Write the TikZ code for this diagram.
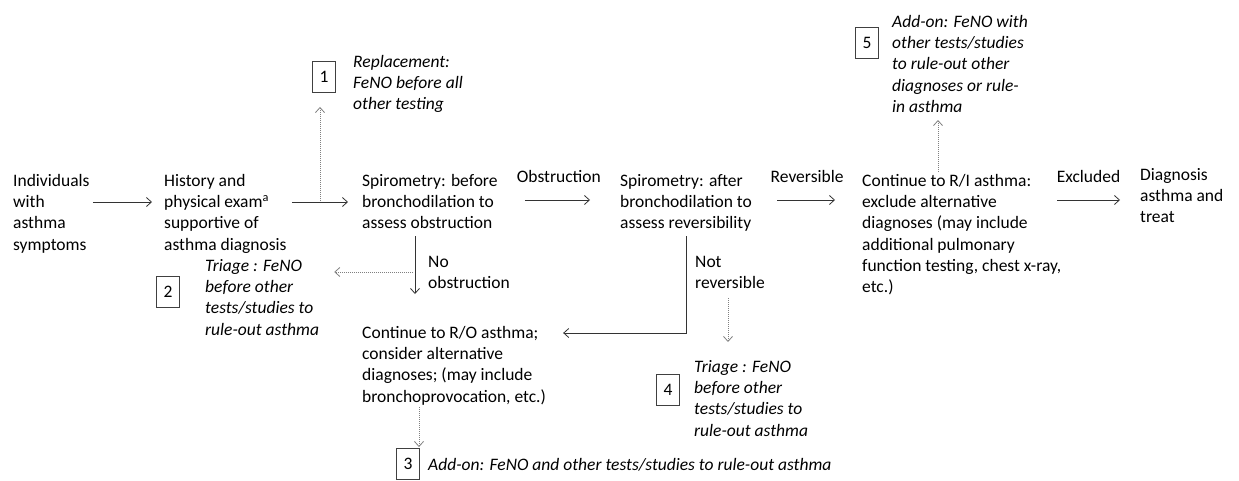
\documentclass[tikz,border=0pt]{standalone}
\usepackage{fontspec}
\setmainfont{Carlito}
\usetikzlibrary{arrows.meta}

\tikzset{
  txt/.style={anchor=north west, align=left, inner sep=0pt, font=\fontsize{17.5}{21.3}\selectfont},
  note/.style={txt, font=\fontsize{17.5}{21.3}\selectfont\itshape},
  numbox/.style={draw=black!75, line width=0.9pt, minimum width=23pt, minimum height=31pt, inner sep=0pt, font=\fontsize{17.5}{21.3}\selectfont},
  arr/.style={draw=black!80, line width=0.8pt, -{Straight Barb[length=5pt,width=9pt]}},
  dotarr/.style={arr, draw=black!50, dash pattern=on 1pt off 1pt},
  lbl/.style={above=17pt, inner sep=0pt, font=\fontsize{17.5}{21.3}\selectfont},
}

\begin{document}
\begin{tikzpicture}[x=1pt,y=-1pt]
\useasboundingbox (0,0) rectangle (1239,480);

		% main row
		\coordinate (row) at (0,202);
		\coordinate (lab) at (0,200);
		\node[txt] (indiv) at (13,174) {Individuals\\with\\asthma\\symptoms};
		\node[txt] (hist) at (164,174) {History and\\physical exam\textsuperscript{a}\\supportive of\\asthma diagnosis};
		\node[txt] (spiroA) at (362,174) {Spirometry: before\\bronchodilation to\\assess obstruction};
		\node[txt] (spiroB) at (620,174) {Spirometry: after\\bronchodilation to\\assess reversibility};
		\node[txt] (rulein) at (862,174) {Continue to R/I asthma:\\exclude alternative\\diagnoses (may include\\additional pulmonary\\function testing, chest x-ray,\\etc.)};
		\node[txt] (diag) at (1140,168) {Diagnosis\\asthma and\\treat};
		\node[txt] (ruleout) at (362,326) {Continue to R/O asthma;\\consider alternative\\diagnoses; (may include\\bronchoprovocation, etc.)};
		
		\draw[arr, shorten <=3pt, shorten >=12pt] (indiv.east |- row) -- (hist.west |- row);
		\draw[arr, shorten <=5pt, shorten >=14pt] (hist.east |- row) -- (spiroA.west |- row);
		\draw[arr, shorten <=27pt, shorten >=30pt] (spiroA.east |- lab) -- (spiroB.west |- lab) node[lbl, midway] {Obstruction};
		\draw[arr, shorten <=25pt, shorten >=27pt] (spiroB.east |- lab) -- (rulein.west |- lab) node[lbl, midway] {Reversible};
		\coordinate (excl) at (1057,200);
		\draw[arr, shorten >=20pt] (excl) -- (diag.west |- excl) node[lbl, pos=0.38] {Excluded};
		
		% side branches
		\coordinate (dnA) at (415,236);
		\draw[arr, shorten >=32pt] (dnA) -- (dnA |- ruleout.north);
		\node[txt] (noobs) at (428,256) {No\\obstruction};
		\coordinate (dnB) at (686,236);
		\coordinate (ro) at (0,333);
		\draw[arr, shorten >=17pt] (dnB) |- (ruleout.east |- ro);
		\node[txt] (notrev) at (695,256) {Not\\reversible};
		
		% FeNO options
		\node[numbox] (box1) at (324,77) {1};
		\node[note] (opt1) at (353,55) {Replacement:\\FeNO before all\\other testing};
		\node[numbox] (box2) at (168,292) {2};
		\node[note] (opt2) at (205,259) {Triage : FeNO\\before other\\tests/studies to\\rule-out asthma};
		\node[numbox] (box3) at (408,464) {3};
		\node[note] (opt3) at (428,458) {Add-on: FeNO and other tests/studies to rule-out asthma};
		\node[numbox] (box4) at (668,390) {4};
		\node[note] (opt4) at (694,360) {Triage : FeNO\\before other\\tests/studies to\\rule-out asthma};
		\node[numbox] (box5) at (867,43) {5};
		\node[note] (opt5) at (892,15) {Add-on: FeNO with\\other tests/studies\\to rule-out other\\diagnoses or rule-\\in asthma};
		
		\coordinate (up1) at (320,201);
		\draw[dotarr, shorten >=14pt] (up1) -- (up1 |- box1.south);
		\coordinate (lf2) at (413,272);
		\draw[dotarr, shorten >=15pt] (lf2) -- (lf2 -| opt2.east);
		\coordinate (dn3) at (419,407);
		\draw[dotarr, shorten >=1pt] (dn3) -- (dn3 |- box3.north);
		\coordinate (dn4) at (728,298);
		\draw[dotarr, shorten >=18pt] (dn4) -- (dn4 |- opt4.north);
		\coordinate (up5) at (938,172);
		\draw[dotarr] (up5) -- ++(0,-52);

\end{tikzpicture}
\end{document}
